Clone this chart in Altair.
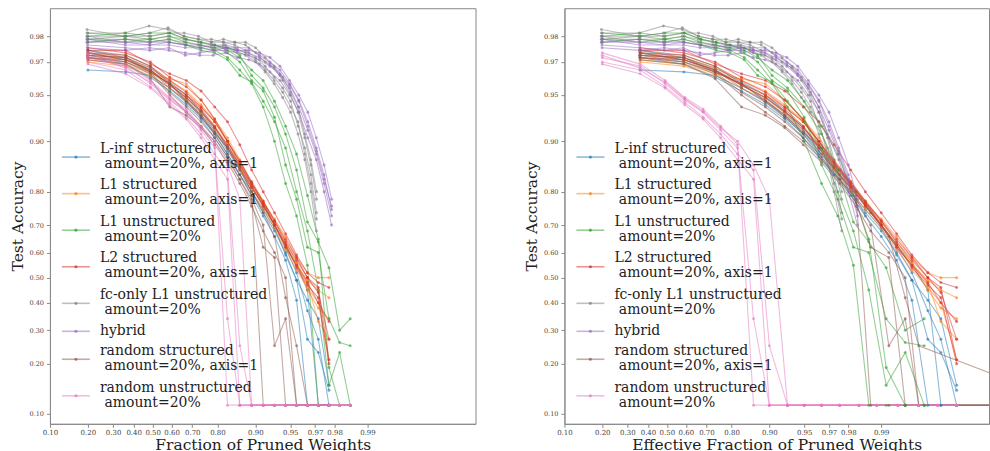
import math
import altair as alt
import pandas as pd

C = 0.1135  # accuracy once a network has collapsed to a single class

# ---- legend labels (method names) and colours --------------------------------
LBL_LINF = "L-inf structured\n amount=20%, axis=1"
LBL_L1S = "L1 structured\n amount=20%, axis=1"
LBL_L1U = "L1 unstructured\n amount=20%"
LBL_L2S = "L2 structured\n amount=20%, axis=1"
LBL_FC = "fc-only L1 unstructured\n amount=20%"
LBL_HYB = "hybrid"
LBL_RS = "random structured\n amount=20%, axis=1"
LBL_RU = "random unstructured\n amount=20%"
ORDER = [LBL_LINF, LBL_L1S, LBL_L1U, LBL_L2S, LBL_FC, LBL_HYB, LBL_RS, LBL_RU]
COLORS = ["#1f77b4", "#ff7f0e", "#2ca02c", "#d62728", "#7f7f7f", "#9467bd", "#8c564b", "#e377c2"]

# ---- fraction of pruned weights after each pruning round ---------------------
FRAC = [0.2, 0.36, 0.488, 0.5904, 0.6723, 0.7379, 0.7903, 0.8322, 0.8658, 0.8926,
        0.9141, 0.9313, 0.9450, 0.9560, 0.9648, 0.9719, 0.9775, 0.9820, 0.9856]
FRAC_FC = [0.197, 0.3546, 0.4807, 0.5815, 0.6622, 0.7268, 0.7784, 0.8197, 0.8528, 0.8792,
           0.9004, 0.9173, 0.9308, 0.9417, 0.9503, 0.9573, 0.9628, 0.9672, 0.9708]
FRAC_HYB = [0.1986, 0.3575, 0.4846, 0.5863, 0.6676, 0.7327, 0.7848, 0.8264, 0.8597, 0.8864,
            0.9077, 0.9248, 0.9384, 0.9493, 0.9580, 0.9651, 0.9707, 0.9751, 0.9787]

# effective fraction (counting weights disconnected by pruning)
EFF_STRUCT = [0.36, 0.590, 0.738, 0.832, 0.892, 0.926, 0.949, 0.963, 0.973, 0.981,
              0.986, 0.990, 0.9928, 0.9948, 0.9963, 0.9972, 0.9980]
EFF_RSTRUCT = [0.36, 0.590, 0.738, 0.832, 0.892, 0.926, 0.949, 0.965, 0.976, 0.983,
               0.9875, 0.9915, 0.994, 0.9955, 0.99984, 0.99990, 0.99994]
EFF_L1U = [0.2, 0.36, 0.49, 0.592, 0.675, 0.742, 0.795, 0.84, 0.875, 0.905,
           0.93, 0.95, 0.965, 0.975, 0.982, 0.987, 0.991, 0.994, 0.996]
EFF_FC = [0.197, 0.355, 0.481, 0.582, 0.663, 0.728, 0.780, 0.822, 0.856, 0.883,
          0.905, 0.922, 0.936, 0.947, 0.956, 0.963, 0.969, 0.973, 0.977]
EFF_HYB = [0.199, 0.358, 0.486, 0.588, 0.670, 0.736, 0.788, 0.830, 0.864, 0.891,
           0.912, 0.929, 0.943, 0.954, 0.963, 0.970, 0.9755, 0.980, 0.9835]
EFF_RU = [0.2, 0.36, 0.49, 0.595, 0.685, 0.76, 0.82, 0.865, 0.9, 0.93,
          0.95, 0.965, 0.976, 0.984, 0.989, 0.993, 0.9955, 0.997, 0.998]

# ---- test accuracy, one list per run ------------------------------------------
ACC_LINF = [
    [0.966, 0.965, 0.963, 0.955, 0.945, 0.930, 0.910, 0.880, 0.840, 0.800, 0.740, 0.680, 0.600, 0.490, 0.410, 0.340, 0.150],
    [0.974, 0.971, 0.966, 0.957, 0.948, 0.935, 0.915, 0.885, 0.850, 0.810, 0.760, 0.700, 0.620, 0.520, 0.370, 0.270, C],
    [0.973, 0.970, 0.965, 0.958, 0.946, 0.932, 0.912, 0.890, 0.855, 0.800, 0.750, 0.690, 0.590, 0.490, 0.270, 0.230, 0.140],
    [0.975, 0.972, 0.967, 0.959, 0.950, 0.936, 0.918, 0.892, 0.860, 0.820, 0.770, 0.700, 0.630, 0.550, 0.450, C, C],
    [0.972, 0.969, 0.962, 0.953, 0.942, 0.928, 0.905, 0.875, 0.840, 0.790, 0.730, 0.660, 0.570, 0.410, C, C, C],
]
ACC_L1S = [
    [0.971, 0.969, 0.964, 0.961, 0.958, 0.946, 0.928, 0.905, 0.870, 0.820, 0.770, 0.720, 0.660, 0.580, 0.520, 0.500, 0.500],
    [0.973, 0.971, 0.966, 0.958, 0.950, 0.940, 0.925, 0.900, 0.860, 0.815, 0.770, 0.700, 0.620, 0.550, 0.490, 0.450, 0.420],
    [0.972, 0.970, 0.965, 0.957, 0.948, 0.935, 0.920, 0.895, 0.855, 0.810, 0.760, 0.700, 0.630, 0.560, 0.450, 0.380, 0.340],
    [0.974, 0.972, 0.967, 0.960, 0.953, 0.942, 0.926, 0.900, 0.865, 0.820, 0.775, 0.715, 0.640, 0.560, 0.480, 0.330, 0.270],
    [0.970, 0.968, 0.963, 0.955, 0.946, 0.933, 0.915, 0.890, 0.850, 0.800, 0.750, 0.690, 0.610, 0.530, 0.460, 0.400, 0.210],
]
ACC_L1U = [
    [0.979, 0.980, 0.981, 0.981, 0.979, 0.978, 0.977, 0.976, 0.973, 0.963, 0.955, 0.940, 0.910, 0.850, 0.710, 0.640, 0.540, 0.300, 0.340],
    [0.981, 0.980, 0.979, 0.980, 0.978, 0.977, 0.976, 0.974, 0.970, 0.960, 0.953, 0.930, 0.860, 0.780, 0.620, 0.600, 0.340, 0.260, 0.250],
    [0.978, 0.979, 0.978, 0.979, 0.977, 0.976, 0.975, 0.972, 0.966, 0.958, 0.940, 0.900, 0.820, 0.730, 0.550, C, C, C, C],
    [0.980, 0.981, 0.980, 0.981, 0.979, 0.978, 0.977, 0.975, 0.972, 0.966, 0.960, 0.945, 0.920, 0.880, 0.790, 0.650, 0.190, C, C],
    [0.979, 0.978, 0.979, 0.978, 0.977, 0.975, 0.974, 0.971, 0.963, 0.959, 0.945, 0.925, 0.890, 0.800, 0.680, 0.450, 0.150, 0.230, C],
]
ACC_L2S = [
    [0.975, 0.975, 0.969, 0.964, 0.960, 0.953, 0.940, 0.925, 0.895, 0.850, 0.800, 0.740, 0.670, 0.590, 0.520, 0.480, 0.460],
    [0.974, 0.973, 0.968, 0.960, 0.952, 0.940, 0.925, 0.900, 0.865, 0.820, 0.770, 0.710, 0.640, 0.570, 0.500, 0.460, 0.210],
    [0.972, 0.971, 0.966, 0.957, 0.948, 0.936, 0.918, 0.895, 0.860, 0.815, 0.760, 0.700, 0.620, 0.550, 0.480, 0.400, 0.330],
    [0.976, 0.974, 0.970, 0.962, 0.956, 0.946, 0.928, 0.900, 0.868, 0.825, 0.775, 0.715, 0.650, 0.580, 0.500, 0.440, 0.270],
    [0.973, 0.972, 0.965, 0.958, 0.950, 0.938, 0.920, 0.890, 0.855, 0.810, 0.765, 0.700, 0.630, 0.540, 0.470, 0.420, 0.200],
]
ACC_FC = [
    [0.981, 0.981, 0.983, 0.982, 0.980, 0.979, 0.979, 0.978, 0.978, 0.977, 0.974, 0.970, 0.967, 0.960, 0.950, 0.935, 0.905, 0.860, 0.780],
    [0.980, 0.980, 0.980, 0.981, 0.981, 0.980, 0.978, 0.978, 0.977, 0.975, 0.972, 0.968, 0.962, 0.955, 0.945, 0.920, 0.890, 0.840, 0.740],
    [0.979, 0.979, 0.979, 0.980, 0.979, 0.978, 0.977, 0.977, 0.975, 0.973, 0.970, 0.965, 0.958, 0.948, 0.935, 0.910, 0.870, 0.800, 0.680],
    [0.982, 0.980, 0.981, 0.9825, 0.980, 0.979, 0.978, 0.979, 0.978, 0.978, 0.976, 0.972, 0.968, 0.962, 0.952, 0.940, 0.910, 0.870, 0.800],
    [0.978, 0.979, 0.978, 0.979, 0.978, 0.977, 0.976, 0.976, 0.976, 0.974, 0.971, 0.966, 0.960, 0.952, 0.940, 0.925, 0.880, 0.820, 0.720],
]
ACC_HYB = [
    [0.979, 0.977, 0.977, 0.977, 0.976, 0.976, 0.977, 0.976, 0.975, 0.975, 0.974, 0.972, 0.968, 0.960, 0.950, 0.935, 0.905, 0.860, 0.780],
    [0.977, 0.976, 0.975, 0.976, 0.973, 0.974, 0.975, 0.975, 0.974, 0.973, 0.971, 0.968, 0.963, 0.955, 0.940, 0.915, 0.880, 0.820, 0.730],
    [0.978, 0.978, 0.978, 0.978, 0.977, 0.977, 0.976, 0.977, 0.976, 0.976, 0.973, 0.970, 0.966, 0.958, 0.946, 0.925, 0.890, 0.840, 0.750],
    [0.976, 0.975, 0.976, 0.975, 0.974, 0.973, 0.973, 0.974, 0.972, 0.971, 0.969, 0.965, 0.960, 0.950, 0.935, 0.905, 0.870, 0.800, 0.700],
    [0.980, 0.978, 0.977, 0.978, 0.977, 0.976, 0.975, 0.976, 0.975, 0.974, 0.972, 0.969, 0.964, 0.957, 0.945, 0.920, 0.885, 0.830, 0.760],
]
ACC_RS = [
    [0.973, 0.972, 0.966, 0.955, 0.944, 0.930, 0.910, 0.880, 0.840, 0.790, C, C, C, C, C, C, C],
    [0.972, 0.970, 0.964, 0.950, 0.935, 0.920, 0.900, 0.870, 0.830, 0.770, 0.620, 0.580, C, C, C, C, C],
    [0.974, 0.971, 0.965, 0.952, 0.940, 0.925, 0.905, 0.875, 0.830, 0.780, 0.700, 0.250, 0.340, C, C, C, C],
    [0.975, 0.973, 0.968, 0.958, 0.945, 0.932, 0.912, 0.890, 0.850, 0.800, 0.740, 0.660, 0.420, 0.250, C, C, C],
    [0.971, 0.969, 0.961, 0.940, 0.932, 0.918, 0.895, 0.865, 0.820, 0.760, 0.680, 0.600, 0.500, C, C, C, C],
]
ACC_RU = [
    [0.972, 0.968, 0.958, 0.946, 0.935, 0.915, 0.890, 0.340, C, C, C, C, C, C, C, C, C, C, C],
    [0.970, 0.966, 0.956, 0.944, 0.930, 0.910, 0.880, 0.850, 0.250, C, C, C, C, C, C, C, C, C, C],
    [0.974, 0.969, 0.960, 0.948, 0.938, 0.920, 0.895, C, C, C, C, C, C, C, C, C, C, C, C],
    [0.969, 0.964, 0.955, 0.942, 0.928, 0.905, 0.870, 0.830, C, C, C, C, C, C, C, C, C, C, C],
    [0.973, 0.967, 0.959, 0.947, 0.936, 0.918, 0.900, 0.860, 0.780, C, C, C, C, C, C, C, C, C, C],
]

SERIES = [
    (LBL_LINF, ACC_LINF, FRAC, EFF_STRUCT),
    (LBL_L1S, ACC_L1S, FRAC, EFF_STRUCT),
    (LBL_L1U, ACC_L1U, FRAC, EFF_L1U),
    (LBL_L2S, ACC_L2S, FRAC, EFF_STRUCT),
    (LBL_FC, ACC_FC, FRAC_FC, EFF_FC),
    (LBL_HYB, ACC_HYB, FRAC_HYB, EFF_HYB),
    (LBL_RS, ACC_RS, FRAC, EFF_RSTRUCT),
    (LBL_RU, ACC_RU, FRAC, EFF_RU),
]

rows = []
for mi, (label, runs, xs, effs) in enumerate(SERIES):
    for ri, accs in enumerate(runs):
        for k, a in enumerate(accs):
            rows.append({"method": label, "run": f"{mi}-{ri}", "step": k,
                         "frac": xs[k], "eff": effs[k], "acc": a})
df = pd.DataFrame(rows)

# ---- legend layout (pixels inside a panel) ------------------------------------
LEG_TOP = 149.0        # centre of the first legend symbol
ENTRY_2 = 36.6         # height taken by a two-line entry
ENTRY_1 = 19.4         # height taken by a one-line entry
SYM_X0, SYM_X1, TEXT_X = 12, 40, 50
SPACE_W = 4.5          # width of the leading space on a second line

sym_rows, text_rows = [], []
y = LEG_TOP
prev_h = None
for label in ORDER:
    lines = label.split("\n")
    h = ENTRY_2 if len(lines) == 2 else ENTRY_1
    if prev_h is not None:
        y += (prev_h + h) / 2
    prev_h = h
    sym_rows.append({"method": label, "sy": y})
    if len(lines) == 2:
        text_rows.append({"line": lines[0], "tx": TEXT_X, "ty": y - 4.3})
        text_rows.append({"line": lines[1].lstrip(), "tx": TEXT_X + SPACE_W, "ty": y + 10.7})
    else:
        text_rows.append({"line": lines[0], "tx": TEXT_X, "ty": y + 4.0})
sym_df = pd.DataFrame(sym_rows)
text_df = pd.DataFrame(text_rows)

X_TICKS = [0.1, 0.2, 0.3, 0.4, 0.5, 0.6, 0.7, 0.8, 0.9, 0.95, 0.97, 0.98, 0.99]
Y_TICKS = [0.1, 0.2, 0.3, 0.4, 0.5, 0.6, 0.7, 0.8, 0.9, 0.95, 0.97, 0.98]


def logit(p):
    return math.log(p / (1 - p))


X_DOM = [logit(0.1), logit(0.999)]
Y_DOM = [-2.356, 4.343]
LABEL_EXPR = "format(1/(1+exp(-datum.value)), '.2f')"
SERIF = "DejaVu Serif"
color_scale = alt.Scale(domain=ORDER, range=COLORS)


def panel(xfield, xtitle, w):
    curves = alt.Chart(df).transform_calculate(
        lx=f"log(datum.{xfield}/(1-datum.{xfield}))",
        ly="log(datum.acc/(1-datum.acc))",
    ).mark_line(
        strokeWidth=1.1, opacity=0.5, clip=True,
        point=alt.OverlayMarkDef(filled=True, size=9, opacity=0.6, clip=True),
    ).encode(
        x=alt.X("lx:Q", title=xtitle,
                scale=alt.Scale(domain=X_DOM, nice=False, zero=False),
                axis=alt.Axis(values=[logit(t) for t in X_TICKS], labelExpr=LABEL_EXPR,
                              labelOverlap=False, labelFlush=False, labelFontSize=7,
                              labelPadding=1, titlePadding=2)),
        y=alt.Y("ly:Q", title="Test Accuracy",
                scale=alt.Scale(domain=Y_DOM, nice=False, zero=False),
                axis=alt.Axis(values=[logit(t) for t in Y_TICKS], labelExpr=LABEL_EXPR,
                              labelOverlap=False, labelFlush=False, labelFontSize=6.5,
                              labelPadding=3, titlePadding=4)),
        color=alt.Color("method:N", scale=color_scale, legend=None),
        detail="run:N",
        order="step:Q",
    )

    leg_line = alt.Chart(sym_df).mark_rule(strokeWidth=1.6, opacity=0.5).encode(
        x=alt.value(SYM_X0), x2=alt.value(SYM_X1),
        y=alt.Y("sy:Q", scale=None, axis=None),
        color=alt.Color("method:N", scale=color_scale, legend=None),
    )
    leg_dot = alt.Chart(sym_df).mark_circle(size=10, opacity=0.7).encode(
        x=alt.value((SYM_X0 + SYM_X1) / 2),
        y=alt.Y("sy:Q", scale=None, axis=None),
        color=alt.Color("method:N", scale=color_scale, legend=None),
    )
    leg_text = alt.Chart(text_df).mark_text(
        align="left", baseline="alphabetic", font=SERIF, fontSize=14, color="#222222",
    ).encode(
        x=alt.X("tx:Q", scale=None, axis=None),
        y=alt.Y("ty:Q", scale=None, axis=None),
        text="line:N",
    )
    return alt.layer(curves, leg_line, leg_dot, leg_text).resolve_scale(
        x="independent", y="independent"
    ).properties(width=w, height=416)


left = panel("frac", "Fraction of Pruned Weights", 426)
right = panel("eff", "Effective Fraction of Pruned Weights", 425)

chart = alt.hconcat(left, right, spacing=89, bounds="flush").properties(
    padding={"left": 9, "top": 7, "right": 0, "bottom": 0},
    background="white",
).configure_view(
    stroke="#888888", strokeWidth=1,
).configure_axis(
    grid=False, domainColor="#888888", domainWidth=1,
    tickColor="#888888", tickSize=3.5, tickWidth=1,
    labelFont=SERIF, labelColor="#444444",
    titleFont=SERIF, titleFontSize=15.5, titleFontWeight="normal", titleColor="#222222",
)

chart.save("out.html", embed_options={"renderer": "svg", "actions": False})
